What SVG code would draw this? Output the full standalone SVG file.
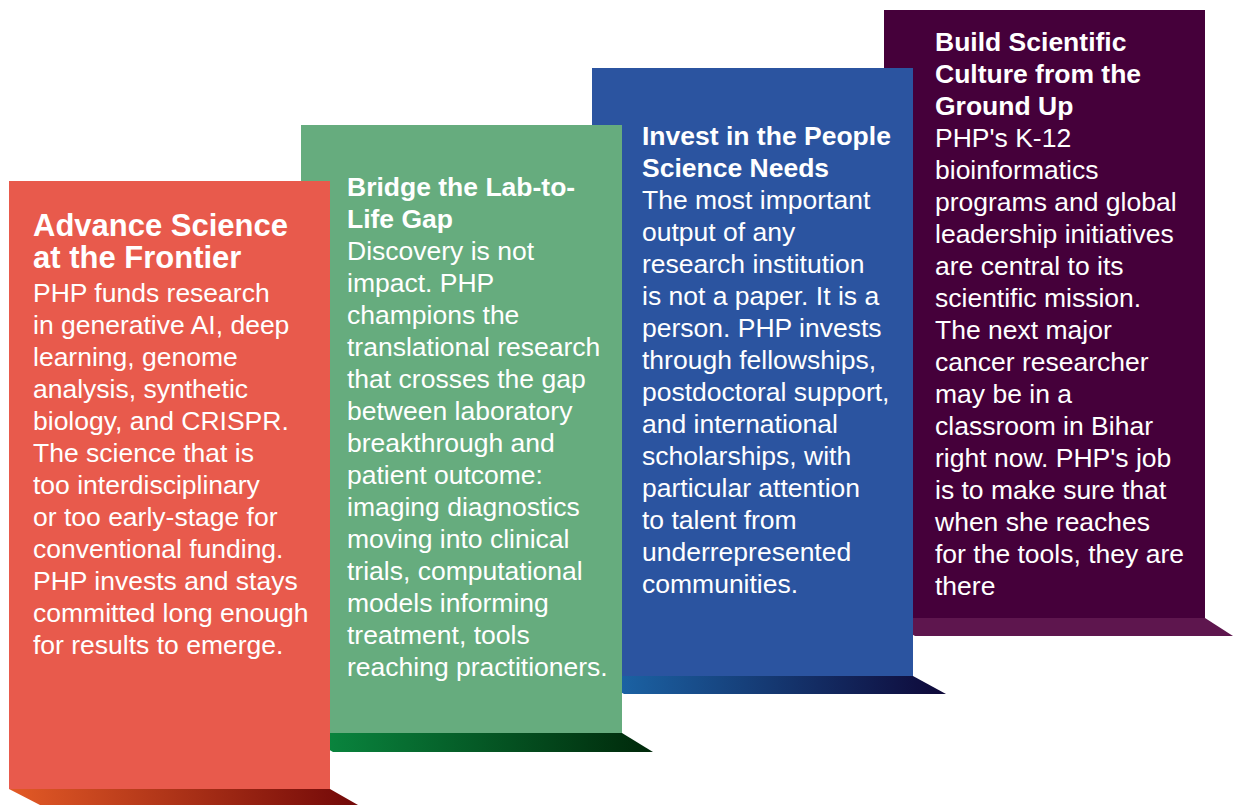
<svg xmlns="http://www.w3.org/2000/svg" width="1233" height="805" viewBox="0 0 1233 805">
<style>
text{font-family:"Liberation Sans",Arial,sans-serif;fill:#ffffff}
.t{font-weight:bold;font-size:26.5px}
.t1{font-weight:bold;font-size:31px}
.b{font-size:26.5px}
</style>
<defs>
<linearGradient id="gr" x1="0" y1="0" x2="1" y2="0"><stop offset="0" stop-color="#e35a26"/><stop offset="1" stop-color="#720808"/></linearGradient>
<linearGradient id="gg" x1="0" y1="0" x2="1" y2="0"><stop offset="0" stop-color="#0a8c42"/><stop offset="1" stop-color="#00280a"/></linearGradient>
<linearGradient id="gb" x1="0" y1="0" x2="1" y2="0"><stop offset="0" stop-color="#1c6aad"/><stop offset="1" stop-color="#0e0838"/></linearGradient>
</defs>
<rect width="1233" height="805" fill="#ffffff"/>

<g id="step4">
<polygon points="884,618 1205,618 1233,636 915,636" fill="#5e164e"/>
<polygon points="884,64 910,64 913,68 884,68" fill="#8a1838"/>
<rect x="884" y="10" width="321" height="608" fill="#45003a"/>
<text class="t" x="935" y="51">Build Scientific</text>
<text class="t" x="935" y="83">Culture from the</text>
<text class="t" x="935" y="115">Ground Up</text>
<text class="b" x="935" y="147">PHP's K-12</text>
<text class="b" x="935" y="179">bioinformatics</text>
<text class="b" x="935" y="211">programs and global</text>
<text class="b" x="935" y="243">leadership initiatives</text>
<text class="b" x="935" y="275">are central to its</text>
<text class="b" x="935" y="307">scientific mission.</text>
<text class="b" x="935" y="339">The next major</text>
<text class="b" x="935" y="371">cancer researcher</text>
<text class="b" x="935" y="403">may be in a</text>
<text class="b" x="935" y="435">classroom in Bihar</text>
<text class="b" x="935" y="467">right now. PHP's job</text>
<text class="b" x="935" y="499">is to make sure that</text>
<text class="b" x="935" y="531">when she reaches</text>
<text class="b" x="935" y="563">for the tools, they are</text>
<text class="b" x="935" y="595">there</text>
</g>

<g id="step3">
<polygon points="592,676 913,676 946,694 624,694" fill="url(#gb)"/>
<polygon points="592,121 618,121 622,125 592,125" fill="#1a46a0"/>
<rect x="592" y="68" width="321" height="608" fill="#2b54a0"/>
<text class="t" x="642" y="145">Invest in the People</text>
<text class="t" x="642" y="177">Science Needs</text>
<text class="b" x="642" y="209">The most important</text>
<text class="b" x="642" y="241">output of any</text>
<text class="b" x="642" y="273">research institution</text>
<text class="b" x="642" y="305">is not a paper. It is a</text>
<text class="b" x="642" y="337">person. PHP invests</text>
<text class="b" x="642" y="369">through fellowships,</text>
<text class="b" x="642" y="401">postdoctoral support,</text>
<text class="b" x="642" y="433">and international</text>
<text class="b" x="642" y="465">scholarships, with</text>
<text class="b" x="642" y="497">particular attention</text>
<text class="b" x="642" y="529">to talent from</text>
<text class="b" x="642" y="561">underrepresented</text>
<text class="b" x="642" y="593">communities.</text>
</g>

<g id="step2">
<polygon points="301,733 622,733 653,752 333,752" fill="url(#gg)"/>
<polygon points="301,178 327,178 330,181 301,181" fill="#0b6e35"/>
<rect x="301" y="125" width="321" height="608" fill="#66ac7e"/>
<text class="t" x="347" y="196">Bridge the Lab-to-</text>
<text class="t" x="347" y="228">Life Gap</text>
<text class="b" x="347" y="260">Discovery is not</text>
<text class="b" x="347" y="292">impact. PHP</text>
<text class="b" x="347" y="324">champions the</text>
<text class="b" x="347" y="356">translational research</text>
<text class="b" x="347" y="388">that crosses the gap</text>
<text class="b" x="347" y="420">between laboratory</text>
<text class="b" x="347" y="452">breakthrough and</text>
<text class="b" x="347" y="484">patient outcome:</text>
<text class="b" x="347" y="516">imaging diagnostics</text>
<text class="b" x="347" y="548">moving into clinical</text>
<text class="b" x="347" y="580">trials, computational</text>
<text class="b" x="347" y="612">models informing</text>
<text class="b" x="347" y="644">treatment, tools</text>
<text class="b" x="347" y="676">reaching practitioners.</text>
</g>

<g id="step1">
<polygon points="9,789 330,789 358,805 40,805" fill="url(#gr)"/>
<rect x="9" y="181" width="321" height="608" fill="#e85a4c"/>
<text class="t1" x="33" y="236">Advance Science</text>
<text class="t1" x="33" y="268">at the Frontier</text>
<text class="b" x="33" y="302">PHP funds research</text>
<text class="b" x="33" y="334">in generative AI, deep</text>
<text class="b" x="33" y="366">learning, genome</text>
<text class="b" x="33" y="398">analysis, synthetic</text>
<text class="b" x="33" y="430">biology, and CRISPR.</text>
<text class="b" x="33" y="462">The science that is</text>
<text class="b" x="33" y="494">too interdisciplinary</text>
<text class="b" x="33" y="526">or too early-stage for</text>
<text class="b" x="33" y="558">conventional funding.</text>
<text class="b" x="33" y="590">PHP invests and stays</text>
<text class="b" x="33" y="622">committed long enough</text>
<text class="b" x="33" y="654">for results to emerge.</text>
</g>

<g id="connectors"></g>
</svg>
